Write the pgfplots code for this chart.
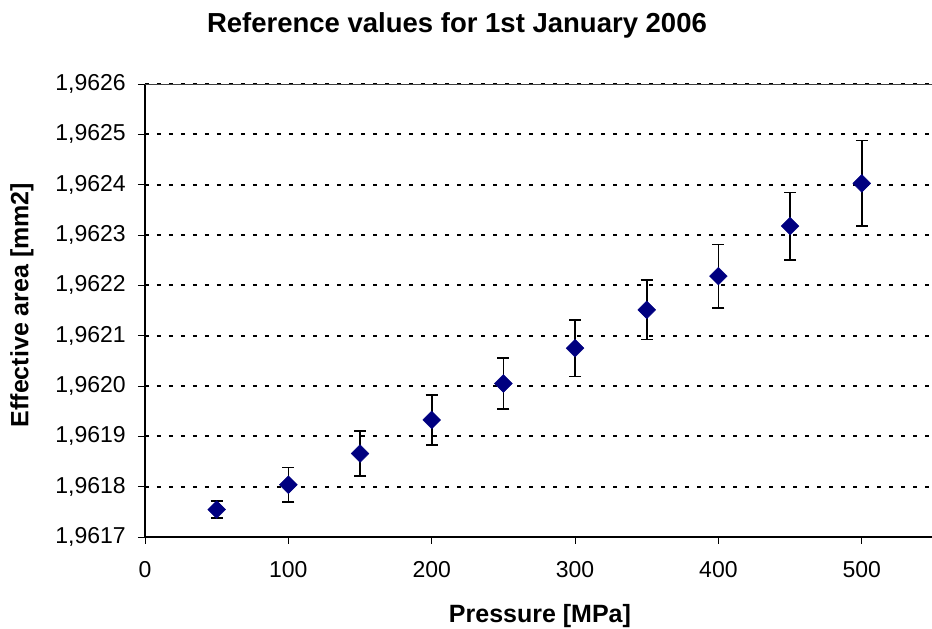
\documentclass[border=0pt]{standalone}
\usepackage{pgfplots}
\pgfplotsset{compat=1.18}
\usepackage{fontspec}
\setmainfont{Liberation Sans}
\definecolor{navy}{RGB}{0,0,128}
\pgfplotstableread{
x y err
50 1.9617545 0.0000173
100 1.9618038 0.0000342
150 1.9618658 0.0000443
200 1.9619326 0.0000503
250 1.9620050 0.0000507
300 1.9620751 0.0000560
350 1.9621513 0.0000590
400 1.9622183 0.0000632
450 1.9623177 0.0000672
500 1.9624026 0.0000849
}\datatable
\begin{document}
\begin{tikzpicture}
\path[use as bounding box] (-145pt,-92pt) rectangle (787pt,537pt);
\begin{axis}[
  at={(0pt,0pt)}, anchor=south west,
  scale only axis, width=787pt, height=453pt,
  xmin=0, xmax=549, ymin=1.9617, ymax=1.9626,
  axis x line=bottom, axis y line=left,
  axis line style={-, black, line width=1.6pt},
  tick align=outside, major tick length=7pt,
  tick style={black, line width=0.9pt},
  xtick={0,100,200,300,400,500},
  ytick={1.9617,1.9618,1.9619,1.9620,1.9621,1.9622,1.9623,1.9624,1.9625,1.9626},
  yticklabels={{1,9617},{1,9618},{1,9619},{1,9620},{1,9621},{1,9622},{1,9623},{1,9624},{1,9625},{1,9626}},
  /pgf/number format/assume math mode=true,
  ymajorgrids,
  major grid style={black, line width=2.2pt, dash pattern=on 4pt off 8pt},
  ticklabel style={font=\fontsize{23}{23}\selectfont},
  xticklabel style={anchor=north, inner sep=0pt, yshift=-17pt},
  yticklabel style={anchor=east, inner sep=0pt, xshift=-12pt},
  clip=false,
]
\draw[black!75, line width=0.9pt] (rel axis cs:0,1) -- (rel axis cs:1,1);
\addplot[only marks, mark=square*, mark size=6.3pt,
  mark options={rotate=45, fill=navy, draw=navy},
  error bars/.cd, y dir=both, y explicit,
  error bar style={black, line width=1.6pt},
  error mark options={rotate=90, black, line width=1.6pt, mark size=6pt}]
  table[x=x, y=y, y error=err] {\datatable};
\end{axis}
\node[anchor=base, font=\bfseries\fontsize{27.5}{30}\selectfont] at (312pt,504pt) {Reference values for 1st January 2006};
\node[anchor=base, font=\bfseries\fontsize{25}{28}\selectfont] at (395pt,-85pt) {Pressure [MPa]};
\node[rotate=90, anchor=center, font=\bfseries\fontsize{25}{28}\selectfont] at (-123pt,232pt) {Effective area [mm2]};
\end{tikzpicture}
\end{document}
